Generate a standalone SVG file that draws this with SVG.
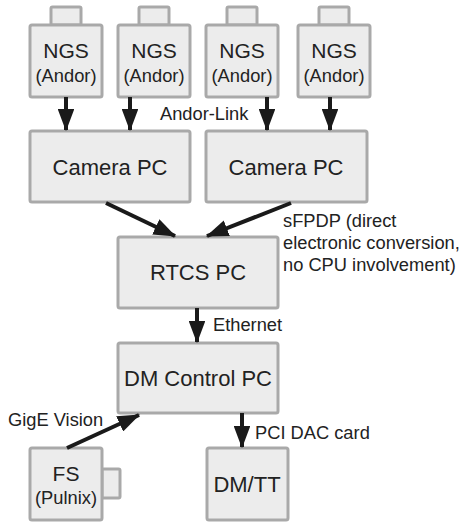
<svg xmlns="http://www.w3.org/2000/svg" width="464" height="522" viewBox="0 0 464 522">
<style>
.box{fill:#ececec;stroke:#a9a9a9;stroke-width:3}
.t{font-family:"Liberation Sans",Arial,sans-serif;fill:#222}
.big{font-size:22px}
.mid{font-size:21px}
.sm{font-size:18.3px}
.c{text-anchor:middle}
.ln{stroke:#1a1a1a;stroke-width:4;fill:none;marker-end:url(#ah)}
</style>
<defs>
<marker id="ah" viewBox="0 0 20 15" refX="19" refY="7.5" markerWidth="5.6" markerHeight="4.2" markerUnits="strokeWidth" orient="auto">
<path d="M0,0 L20,7.5 L0,15 Z" fill="#1a1a1a"/>
</marker>
</defs>
<rect width="464" height="522" fill="#fff"/>
<g id="ngs1"><rect class="box" x="51" y="7" width="30" height="18" rx="1.5"/><rect class="box" x="30" y="25" width="72" height="72" rx="2"/><text class="t mid c" x="66" y="58">NGS</text><text class="t sm c" x="66" y="82">(Andor)</text></g>
<g id="ngs2"><rect class="box" x="139" y="7" width="30" height="18" rx="1.5"/><rect class="box" x="118" y="25" width="72" height="72" rx="2"/><text class="t mid c" x="154" y="58">NGS</text><text class="t sm c" x="154" y="82">(Andor)</text></g>
<g id="ngs3"><rect class="box" x="227" y="7" width="30" height="18" rx="1.5"/><rect class="box" x="206" y="25" width="72" height="72" rx="2"/><text class="t mid c" x="242" y="58">NGS</text><text class="t sm c" x="242" y="82">(Andor)</text></g>
<g id="ngs4"><rect class="box" x="319" y="7" width="30" height="18" rx="1.5"/><rect class="box" x="298" y="25" width="72" height="72" rx="2"/><text class="t mid c" x="334" y="58">NGS</text><text class="t sm c" x="334" y="82">(Andor)</text></g>
<g id="campc1"><rect class="box" x="30" y="131" width="160" height="71" rx="2"/><text class="t big c" x="110" y="175">Camera PC</text></g>
<g id="campc2"><rect class="box" x="206" y="131" width="161" height="71" rx="2"/><text class="t big c" x="286" y="175">Camera PC</text></g>
<g id="rtcs"><rect class="box" x="118" y="237" width="160" height="71" rx="2"/><text class="t big c" x="198" y="280">RTCS PC</text></g>
<g id="dmcontrol"><rect class="box" x="118" y="343" width="160" height="70" rx="2"/><text class="t big c" x="198" y="386">DM Control PC</text></g>
<g id="fs"><rect class="box" x="102" y="469" width="18" height="29" rx="1.5"/><rect class="box" x="30" y="448" width="72" height="72" rx="2"/><text class="t mid c" x="66" y="481">FS</text><text class="t sm c" x="66" y="504">(Pulnix)</text></g>
<g id="dmtt"><rect class="box" x="207" y="448" width="81" height="72" rx="2"/><text class="t big c" x="247" y="492">DM/TT</text></g>
<g id="connectors">
<line class="ln" x1="66" y1="97" x2="66" y2="130"/>
<line class="ln" x1="130" y1="97" x2="130" y2="130"/>
<line class="ln" x1="267" y1="97" x2="267" y2="130"/>
<line class="ln" x1="330" y1="97" x2="330" y2="130"/>
<line class="ln" x1="106" y1="203" x2="175" y2="236"/>
<line class="ln" x1="291" y1="203" x2="207" y2="236"/>
<line class="ln" x1="197" y1="308" x2="197" y2="342"/>
<line class="ln" x1="67" y1="448" x2="139" y2="415"/>
<line class="ln" x1="242" y1="413" x2="242" y2="447"/>
</g>
<g id="labels">
<text class="t sm" x="160" y="120">Andor-Link</text>
<text class="t sm" x="283" y="227">sFPDP (direct</text>
<text class="t sm" x="283" y="249">electronic conversion,</text>
<text class="t sm" x="283" y="271">no CPU involvement)</text>
<text class="t sm" x="213" y="331">Ethernet</text>
<text class="t sm" x="8" y="426">GigE Vision</text>
<text class="t sm" x="255" y="439">PCI DAC card</text>
</g>
</svg>
